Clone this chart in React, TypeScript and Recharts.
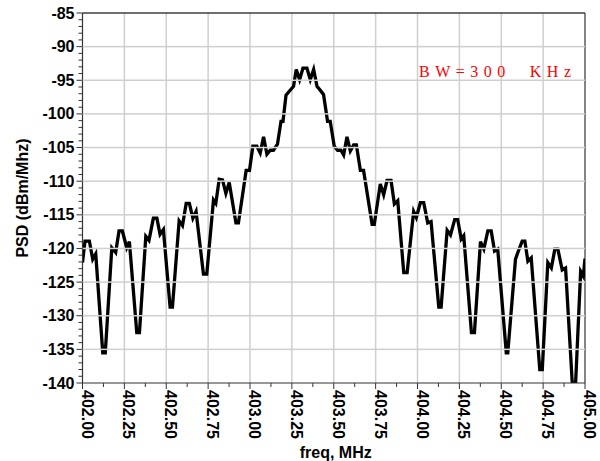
import React from 'react';
import {
  LineChart,
  Line,
  XAxis,
  YAxis,
  ReferenceLine,
} from 'recharts';

// spectrum trace (MHz / dBm per MHz)
const freq = [
  402.0, 402.015, 402.041, 402.061, 402.079, 402.121, 402.136,
  402.175, 402.198, 402.218, 402.238, 402.264, 402.28, 402.324, 402.34,
  402.378, 402.397, 402.423, 402.444, 402.463, 402.483, 402.523, 402.537,
  402.577, 402.597, 402.619, 402.638, 402.659, 402.678, 402.722, 402.742,
  402.782, 402.796, 402.816, 402.836, 402.856, 402.876, 402.916, 402.931,
  402.977, 402.997, 403.017, 403.041, 403.061, 403.081, 403.101, 403.121,
  403.14, 403.164, 403.185, 403.197, 403.215, 403.236, 403.26, 403.276,
  403.296, 403.316, 403.34, 403.36, 403.38, 403.4, 403.42, 403.439,
  403.463, 403.479, 403.503, 403.523, 403.543, 403.559, 403.579, 403.599,
  403.619, 403.635, 403.659, 403.678, 403.729, 403.742,
  403.778, 403.798, 403.818, 403.842, 403.862, 403.882, 403.918, 403.938,
  403.977, 403.993, 404.017, 404.037, 404.061, 404.081, 404.127, 404.141,
  404.177, 404.197, 404.222, 404.24, 404.261, 404.276, 404.322, 404.34,
  404.376, 404.396, 404.42, 404.44, 404.46, 404.479, 404.53, 404.539,
  404.585, 404.599, 404.625, 404.641, 404.659, 404.679, 404.73, 404.745,
  404.778, 404.799, 404.82, 404.838, 404.864, 404.884, 404.924, 404.944,
  404.974, 404.99, 405.0,
];

const psd = [
  -122.1, -118.9, -118.9, -121.6, -120.8, -135.5, -135.5,
  -119.9, -120.6, -117.4, -117.4, -119.9, -119.0, -132.5, -132.5,
  -118.2, -118.8, -115.5, -115.5, -117.9, -117.2, -128.7, -128.7,
  -115.9, -116.6, -113.3, -113.3, -115.5, -114.5, -123.8, -123.8,
  -112.8, -113.3, -109.7, -109.8, -111.8, -110.2, -116.2, -116.2,
  -108.4, -108.4, -104.8, -104.8, -105.8, -103.4, -106.0, -105.4,
  -105.4, -104.5, -101.1, -101.1, -97.2, -96.6, -95.9, -93.4,
  -94.9, -93.2, -93.2, -94.9, -93.4, -95.9, -96.5, -97.1,
  -101.1, -101.1, -104.8, -105.4, -105.4, -106.1, -103.4, -105.5,
  -104.6, -104.6, -108.4, -108.4, -116.4, -116.4,
  -110.4, -112.0, -109.9, -109.9, -113.4, -112.9, -123.6, -123.6,
  -114.5, -115.4, -113.2, -113.2, -116.2, -116.0, -128.7, -128.7,
  -117.3, -118.0, -115.7, -115.7, -118.6, -118.1, -132.5, -132.5,
  -119.0, -120.1, -117.4, -117.4, -120.4, -120.1, -135.5, -135.5,
  -121.6, -120.6, -118.9, -118.9, -121.9, -121.4, -138.0, -138.0,
  -122.1, -122.9, -120.1, -120.1, -123.2, -122.9, -140.0, -140.0,
  -123.4, -124.1, -121.5,
];

const xMajor = [
  402.0, 402.25, 402.5, 402.75, 403.0, 403.25, 403.5,
  403.75, 404.0, 404.25, 404.5, 404.75, 405.0,
];

// minor ticks: every 0.125 MHz and every 1 dB
const xTicks = Array.from({ length: 25 }, (_, i) => 402 + i * 0.125);
const yTicks = Array.from({ length: 56 }, (_, i) => -140 + i);

const data = freq.map((f, i) => ({ freq: f, psd: psd[i] }));

const FONT = '"Liberation Sans", Arial, sans-serif';
const AXIS = '#333333';
const GRID = '#cfcfcf';

const W = 600;
const H = 461;
const MARGIN = { top: 13, right: 15, left: 0, bottom: 0 };
const Y_AXIS_W = 82.5;
const PLOT_W = W - MARGIN.left - MARGIN.right - Y_AXIS_W;

const XTick = (props: any) => {
  const x = Number(props.x);
  const y = Number(props.y);
  const v = Number(props.payload.value);
  const major = Math.abs(v * 4 - Math.round(v * 4)) < 1e-6;
  const tx = x - 1;
  const ty = y + 7;
  return (
    <g>
      <line x1={x} y1={y} x2={x} y2={y + (major ? 6 : 4)} stroke={AXIS} strokeWidth={1} />
      {major && (
        <text
          x={tx}
          y={ty}
          transform={`rotate(90, ${tx}, ${ty})`}
          fontSize={16}
          fontWeight="bold"
          fontFamily={FONT}
          fill="#000"
        >
          {v.toFixed(2)}
        </text>
      )}
    </g>
  );
};

// y tick also carries the horizontal grid band for major values
const YTick = (props: any) => {
  const x = Number(props.x);
  const y = Number(props.y);
  const v = Number(props.payload.value);
  const major = v % 5 === 0;
  const top = v === -85;
  const th = top ? 1.4 : 1.5;
  return (
    <g>
      {major && v !== -140 && (
        <rect x={x} y={y - th / 2} width={PLOT_W} height={th} fill={top ? AXIS : GRID} />
      )}
      <rect x={x - (major ? 6 : 4)} y={y - 0.5} width={major ? 6 : 4} height={1} fill={AXIS} />
      {major && (
        <text
          x={x - 8}
          y={y}
          textAnchor="end"
          dominantBaseline="central"
          fontSize={16}
          fontWeight="bold"
          fontFamily={FONT}
          fill="#000"
        >
          {v}
        </text>
      )}
    </g>
  );
};

const YTitle = (props: any) => {
  const { viewBox } = props;
  const cx = Number(viewBox.x) + 22;
  const cy = Number(viewBox.y) + Number(viewBox.height) / 2;
  return (
    <text
      x={cx}
      y={cy}
      transform={`rotate(-90, ${cx}, ${cy})`}
      textAnchor="middle"
      dominantBaseline="central"
      fontSize={16}
      fontWeight="bold"
      fontFamily={FONT}
      fill="#000"
    >
      PSD (dBm/Mhz)
    </text>
  );
};

const XTitle = (props: any) => {
  const { viewBox } = props;
  return (
    <text
      x={Number(viewBox.x) + Number(viewBox.width) / 2 + 2}
      y={458}
      textAnchor="middle"
      fontSize={16}
      fontWeight="bold"
      fontFamily={FONT}
      fill="#000"
    >
      freq, MHz
    </text>
  );
};

export default function App() {
  return (
    <div style={{ position: 'absolute', left: 0, top: 0, width: W, height: H, background: '#fff' }}>
      <LineChart width={W} height={H} data={data} margin={MARGIN}>
        <XAxis
          dataKey="freq"
          type="number"
          domain={[402, 405]}
          allowDataOverflow
          ticks={xTicks}
          interval={0}
          tickSize={0}
          tickMargin={0}
          tickLine={false}
          tick={<XTick />}
          axisLine={{ stroke: AXIS, strokeWidth: 1.2 }}
          height={78}
          label={<XTitle />}
        />
        <YAxis
          type="number"
          dataKey="psd"
          domain={[-140, -85]}
          allowDataOverflow
          ticks={yTicks}
          interval={0}
          tickSize={0}
          tickMargin={0}
          tickLine={false}
          tick={<YTick />}
          axisLine={{ stroke: AXIS, strokeWidth: 1.2 }}
          width={Y_AXIS_W}
          label={<YTitle />}
        />
        {xMajor.slice(1, -1).map((v) => (
          <ReferenceLine key={`gx${v}`} x={v} stroke={GRID} strokeWidth={1.5} />
        ))}
        <ReferenceLine x={405} stroke={AXIS} strokeWidth={1.2} />
        <Line
          type="linear"
          dataKey="psd"
          stroke="#000"
          strokeWidth={3.3}
          dot={false}
          isAnimationActive={false}
        />
      </LineChart>
      <div
        style={{
          position: 'absolute',
          left: 419,
          top: 63.5,
          fontFamily: '"Liberation Serif", "Times New Roman", serif',
          fontSize: 16,
          lineHeight: '16px',
          letterSpacing: 5.5,
          whiteSpace: 'pre',
          color: '#ff0000',
        }}
      >
        BW=300  KHz
      </div>
    </div>
  );
}
